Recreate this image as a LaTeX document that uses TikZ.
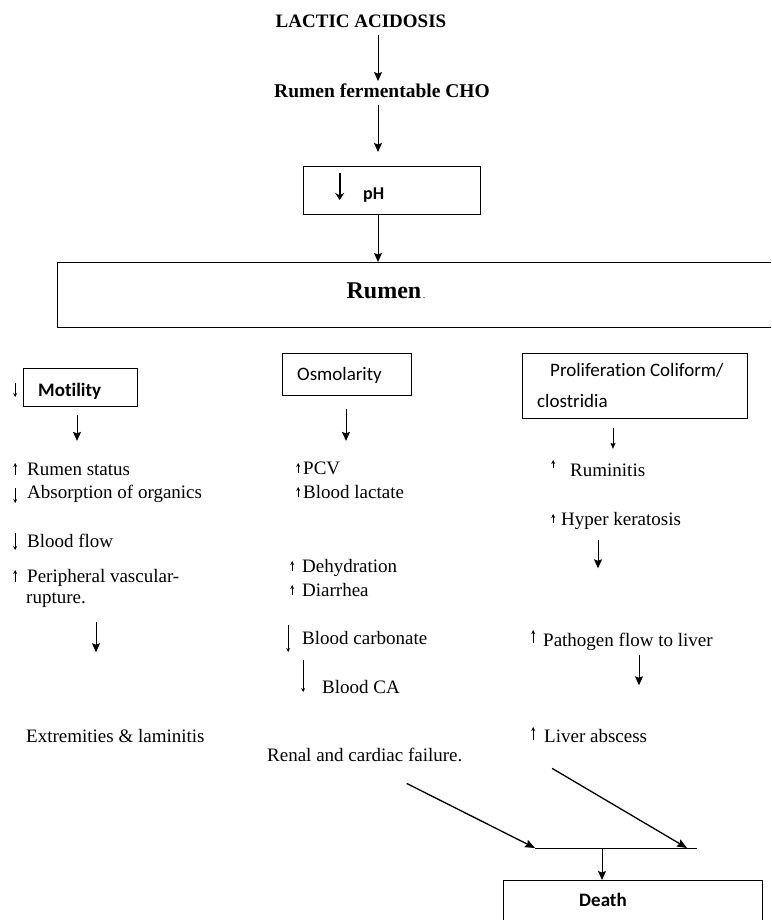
\documentclass[tikz,border=0pt]{standalone}
\usepackage{fontspec}
\setmainfont{Liberation Serif}
\newfontfamily\cfont[Ligatures={NoCommon}]{Carlito}
\usetikzlibrary{arrows.meta}
\tikzset{
 glyph/.style={line width=0.8pt,-{Stealth[length=4pt,width=4pt]}},
 arr/.style={line width=1pt,-{Stealth[length=9pt,width=8pt,inset=1.5pt]}},
 arrsmall/.style={line width=0.9pt,-{Stealth[length=6pt,width=5pt,inset=1pt]}},
 diag/.style={line width=1.3pt,-{Stealth[length=10pt,width=8pt,inset=1.5pt]}},
 txt/.style={inner sep=0pt,anchor=base west,font=\fontsize{19}{23}\selectfont},
 ctxt/.style={inner sep=0pt,anchor=base west,font=\cfont\fontsize{19}{23}\selectfont},
 box/.style={draw,line width=0.9pt,inner sep=0pt,anchor=north west},
 frame/.style={inner sep=0pt,anchor=north west},
 side/.style={line width=0.9pt},
}
\newcommand\smallarrow[2]{\tikz[baseline=0pt,x=1pt,y=1pt]\draw[glyph] (0,#1) -- (0,#2);}
\begin{document}
\begin{tikzpicture}[x=1pt,y=-1pt]
\useasboundingbox (0,0) rectangle (771,920);
\coordinate (cx) at (378,0);
% top chain
\node[txt,anchor=base,font=\bfseries\fontsize{19}{23}\selectfont] (lactic) at (361,28) {LACTIC ACIDOSIS};
\node[txt,anchor=base,font=\bfseries\fontsize{19.5}{23}\selectfont] (cho) at (382,98) {Rumen fermentable CHO};
\node[box,minimum width=177pt,minimum height=48pt] (phbox) at (303,166) {};
\node[ctxt,font=\cfont\bfseries\fontsize{18}{22}\selectfont] (ph) at (335,199) {\tikz[baseline=0pt,x=1pt,y=1pt]\draw[line width=2.4pt,-{Stealth[length=7pt,width=9pt]}] (0,26) -- (0,-1);\hspace{19pt}pH};
\node[frame,minimum width=714pt,minimum height=65pt] (rumenbox) at (57,262) {};
\draw[side] (rumenbox.north east) -- (rumenbox.north west) -- (rumenbox.south west) -- (rumenbox.south east);
\node[txt,anchor=base,font=\bfseries\fontsize{24}{28}\selectfont] (rumen) at (386,298) {Rumen{\mdseries\fontsize{10}{10}\selectfont\,.}};
\draw[arr,shorten <=7pt,shorten >=3pt] (lactic.south -| cx) -- (cho.north -| cx);
\draw[arr,shorten <=7pt,shorten >=14pt] (cho.south -| cx) -- (phbox.north -| cx);
\draw[arr] (phbox.south -| cx) -- (rumenbox.north -| cx);
% left column
\node[txt] (motdn) at (13,396) {\smallarrow{13}{-1}};
\node[box,minimum width=114pt,minimum height=38pt] (motbox) at (23,368) {};
\node[ctxt,font=\cfont\bfseries\fontsize{19}{23}\selectfont] (mot) at (38,396) {Motility};
\coordinate (x5) at (77,0);
\draw[arr,shorten <=8pt] (motbox.south -| x5) -- ++(0,34);
\node[txt] (rstat) at (13,475) {\smallarrow{0}{12}\hspace{10pt}Rumen status};
\node[txt] (absorb) at (13,498) {\smallarrow{10}{-5}\hspace{10pt}Absorption of organics};
\node[txt] (bflow) at (13,547) {\smallarrow{14}{-3}\hspace{10pt}Blood flow};
\node[txt] (periph) at (13,582) {\smallarrow{0}{12}\hspace{10pt}Peripheral vascular-};
\node[txt] (rupture) at (26,603) {rupture.};
\node[txt] (extrem) at (26,742) {Extremities \& laminitis};
\coordinate (x6) at (96,0);
\draw[arr,shorten <=15pt] (rupture.south -| x6) -- ++(0,45);
% middle column
\node[box,minimum width=129pt,minimum height=42pt] (osmbox) at (282,353) {};
\node[ctxt] (osm) at (297,380) {Osmolarity};
\coordinate (x7) at (346,0);
\draw[arr,shorten <=13pt] (osmbox.south -| x7) -- ++(0,45);
\node[txt] (pcv) at (296,474) {\smallarrow{1}{11}\hspace{3pt}PCV};
\node[txt] (blact) at (296,498) {\smallarrow{1}{11}\hspace{3pt}Blood lactate};
\node[txt] (dehyd) at (290,572) {\smallarrow{1}{11}\hspace{8pt}Dehydration};
\node[txt] (diarr) at (290,596) {\smallarrow{1}{11}\hspace{8pt}Diarrhea};
\node[txt] (bcarb) at (286,644) {\smallarrow{19}{-8}\hspace{12pt}Blood carbonate};
\node[txt] (bca) at (301,693) {\smallarrow{33}{1}\hspace{17pt}Blood CA};
\node[txt] (renal) at (267,761) {Renal and cardiac failure.};
% right column
\node[box,minimum width=225pt,minimum height=65pt] (probox) at (522,353) {};
\node[ctxt] (pro1) at (550,376) {Proliferation Coliform/};
\node[ctxt] (pro2) at (537,407) {clostridia};
\coordinate (x8) at (613,0);
\draw[arrsmall,shorten <=9pt] (probox.south -| x8) -- ++(0,30);
\node[txt] (rumin) at (551,476) {\smallarrow{8}{16}\hspace{15pt}Ruminitis};
\node[txt] (hyper) at (551,525) {\smallarrow{2}{11}\hspace{6pt}Hyper keratosis};
\coordinate (x9) at (598,0);
\draw[arr,shorten <=11pt] (hyper.south -| x9) -- ++(0,39);
\node[txt] (patho) at (531,646) {\smallarrow{3}{16}\hspace{8pt}Pathogen flow to liver};
\coordinate (x10) at (639,0);
\draw[arr,shorten <=5pt] (patho.south -| x10) -- ++(0,35);
\node[txt] (liver) at (531,742) {\smallarrow{2}{15}\hspace{9pt}Liver abscess};
% bottom
\coordinate (jl) at (535,848);
\coordinate (jr) at (687,848);
\coordinate (jre) at (697,848);
\coordinate (jm) at (602,848);
\node[frame,minimum width=259pt,minimum height=40pt] (deathbox) at (503,880) {};
\draw[side] (deathbox.south west) -- (deathbox.north west) -- (deathbox.north east) -- (deathbox.south east);
\node[ctxt,anchor=base,font=\cfont\bfseries\fontsize{19}{23}\selectfont] (death) at (603,906) {Death};
\draw[diag] ([xshift=42pt,yshift=-22pt]renal.south) -- (jl);
\draw[diag] ([xshift=-37pt,yshift=-26pt]liver.south) -- (jr);
\draw[side] (jl) -- (jre);
\draw[arr] (jm) -- (deathbox.north -| jm);
\end{tikzpicture}
\end{document}
